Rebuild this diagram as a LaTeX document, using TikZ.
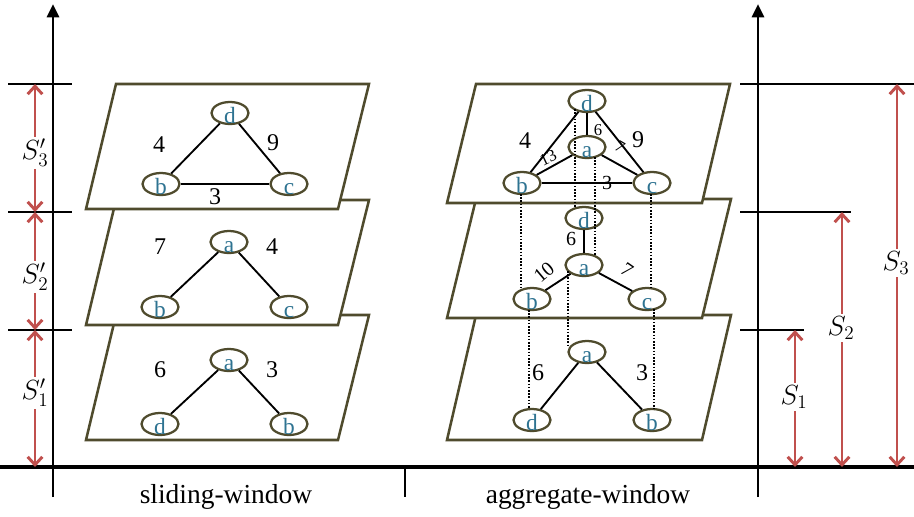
\documentclass[tikz,border=0pt]{standalone}
\usepackage{fontspec}
\setmainfont{Liberation Serif}
\usetikzlibrary{arrows.meta,calc,shapes.geometric}
\definecolor{plc}{HTML}{4F4B2D}
\definecolor{tealtxt}{HTML}{2E7391}
\definecolor{redarr}{HTML}{C0504D}
\newcommand{\nl}[1]{\raisebox{-8pt}[0pt][0pt]{#1}}
\tikzset{
  gnode/.style={ellipse, draw=plc, line width=1.7pt, fill=white, minimum width=27.75pt,
    minimum height=16.5pt, inner sep=0pt, text=tealtxt, font=\fontsize{17.5}{17.5}\selectfont},
  plane/.style={draw=plc, line width=1.9pt, fill=white, line join=miter},
  edgeln/.style={line width=1.4pt, black},
  dotln/.style={line width=1.2pt, black, dash pattern=on 1.2pt off 1.2pt},
  wbig/.style={inner sep=0pt, font=\fontsize{18}{18}\selectfont},
  wmed/.style={inner sep=0pt, font=\fontsize{15}{15}\selectfont},
  wsmall/.style={inner sep=0pt, font=\fontsize{12.5}{13}\selectfont},
  axisln/.style={line width=2.2pt, black},
  tickln/.style={line width=2.2pt, black},
  axarrow/.style={line width=2.2pt, black, -{Triangle[length=10pt,width=9pt]}},
  redln/.style={line width=2.2pt, redarr, {Straight Barb[length=6pt,width=11pt]}-{Straight Barb[length=6pt,width=11pt]}},
  slab/.style={fill=white, inner sep=2pt, font=\huge},
  caption/.style={inner sep=0pt, font=\fontsize{20.6}{21}\selectfont}
}
\begin{document}
\begin{tikzpicture}[x=0.75pt,y=-0.75pt]
\useasboundingbox (0,0) rectangle (914,517);

% ---------- axes ----------
\coordinate (laxb) at (53,497);
\coordinate (laxt) at (53,4);
\coordinate (raxb) at (758,497);
\coordinate (raxt) at (758,4);
\coordinate (bl) at (0,467);
\coordinate (br) at (914,467);
\coordinate (mtk0) at (405,467);
\coordinate (mtk1) at (405,497);
\draw[axarrow] (laxb) -- (laxt);
\draw[axarrow] (raxb) -- (raxt);
\draw[axisln, line width=3pt] (bl) -- (br);
\draw[tickln] (mtk0) -- (mtk1);

% left ticks
\coordinate (lt3a) at (8,84);   \coordinate (lt3b) at (72,84);
\coordinate (lt2a) at (8,212);  \coordinate (lt2b) at (72,212);
\coordinate (lt1a) at (8,330);  \coordinate (lt1b) at (72,330);
\draw[tickln] (lt3a) -- (lt3b);
\draw[tickln] (lt2a) -- (lt2b);
\draw[tickln] (lt1a) -- (lt1b);
% right ticks
\coordinate (rt3a) at (740,84);   \coordinate (rt3b) at (914,84);
\coordinate (rt2a) at (740,212);  \coordinate (rt2b) at (851,212);
\coordinate (rt1a) at (740,330);  \coordinate (rt1b) at (804,330);
\draw[tickln] (rt3a) -- (rt3b);
\draw[tickln] (rt2a) -- (rt2b);
\draw[tickln] (rt1a) -- (rt1b);

% red arrows left
\coordinate (ra3) at (35,84);
\coordinate (ra2) at (35,212);
\coordinate (ra1) at (35,330);
\coordinate (ra0) at (35,467);
\draw[redln] (ra3) -- (ra2);
\draw[redln] (ra2) -- (ra1);
\draw[redln] (ra1) -- (ra0);
\node[slab] (sp3) at (35,153) {$S'_3$};
\node[slab] (sp2) at (35,277) {$S'_2$};
\node[slab] (sp1) at (35,393) {$S'_1$};
% red arrows right
\coordinate (s1t) at (795,330); \coordinate (s1b) at (795,467);
\coordinate (s2t) at (842,212); \coordinate (s2b) at (842,467);
\coordinate (s3t) at (897,84);  \coordinate (s3b) at (897,467);
\draw[redln] (s1t) -- (s1b);
\draw[redln] (s2t) -- (s2b);
\draw[redln] (s3t) -- (s3b);
\node[slab] (s1) at (794,397) {$S_1$};
\node[slab] (s2) at (841,328) {$S_2$};
\node[slab] (s3) at (896,263) {$S_3$};

% ---------- left planes ----------
\draw[plane] (116,315) -- (369,315) -- (338,440) -- (86,440) -- cycle;
\draw[plane] (116,200) -- (369,200) -- (338,325) -- (86,325) -- cycle;
\draw[plane] (116,84) -- (369,84) -- (338,209) -- (86,209) -- cycle;

% ---------- right planes ----------
\draw[plane] (476,315) -- (731,315) -- (702,440) -- (447,440) -- cycle;
\draw[plane] (476,199) -- (731,199) -- (702,318) -- (447,318) -- cycle;
\draw[plane] (476,84) -- (730,84) -- (702,203) -- (447,203) -- cycle;

% ---------- left graphs ----------
\node[gnode] (L3d) at (230,113) {\nl{d}};
\node[gnode] (L3b) at (161,184) {\nl{b}};
\node[gnode] (L3c) at (289,184) {\nl{c}};
\draw[edgeln] (L3d) -- (L3b);
\draw[edgeln] (L3d) -- (L3c);
\draw[edgeln] (L3b) -- (L3c);
\node[wbig] (w3a) at (159,145) {4};
\node[wbig] (w3b) at (273,143) {9};
\node[wbig] (w3c) at (215,197) {3};

\node[gnode] (L2a) at (229,242) {\nl{a}};
\node[gnode] (L2b) at (160,307) {\nl{b}};
\node[gnode] (L2c) at (289,307) {\nl{c}};
\draw[edgeln] (L2a) -- (L2b);
\draw[edgeln] (L2a) -- (L2c);
\node[wbig] (w2a) at (160,247) {7};
\node[wbig] (w2b) at (272,247) {4};

\node[gnode] (L1a) at (229,360) {\nl{a}};
\node[gnode] (L1d) at (160,424) {\nl{d}};
\node[gnode] (L1b) at (289,424) {\nl{b}};
\draw[edgeln] (L1a) -- (L1d);
\draw[edgeln] (L1a) -- (L1b);
\node[wbig] (w1a) at (160,370) {6};
\node[wbig] (w1b) at (272,370) {3};

% ---------- right graphs ----------
\node[gnode] (R3d) at (587,101) {\nl{d}};
\node[gnode] (R3a) at (587,147) {\nl{a}};
\node[gnode] (R3b) at (522,183) {\nl{b}};
\node[gnode] (R3c) at (652,183) {\nl{c}};
\draw[edgeln] (R3d) -- (R3b);
\draw[edgeln] (R3d) -- (R3c);
\draw[edgeln] (R3d) -- (R3a);
\draw[edgeln] (R3a) -- (R3b);
\draw[edgeln] (R3a) -- (R3c);
\draw[edgeln] (R3b) -- (R3c);
\node[wbig] (x3a) at (525,141) {4};
\node[wsmall, rotate=25] (x3b) at (548,158) {13};
\node[wsmall] (x3c) at (598,130) {6};
\node[wsmall, rotate=-30] (x3d) at (620,147) {7};
\node[wbig] (x3e) at (638,140) {9};
\node[wmed] (x3f) at (607,183) {3};

\node[gnode] (R2d) at (584,218) {\nl{d}};
\node[gnode] (R2a) at (584,265) {\nl{a}};
\node[gnode] (R2b) at (532,299) {\nl{b}};
\node[gnode] (R2c) at (647,299) {\nl{c}};
\draw[edgeln] (R2d) -- (R2a);
\draw[edgeln] (R2a) -- (R2b);
\draw[edgeln] (R2a) -- (R2c);
\node[wmed] (x2a) at (571,239) {6};
\node[wmed, rotate=40] (x2b) at (544,272) {10};
\node[wmed, rotate=-35] (x2c) at (627,270) {7};

\node[gnode] (R1a) at (587,352) {\nl{a}};
\node[gnode] (R1d) at (532,420) {\nl{d}};
\node[gnode] (R1b) at (652,420) {\nl{b}};
\draw[edgeln] (R1a) -- (R1d);
\draw[edgeln] (R1a) -- (R1b);
\node[wbig] (x1a) at (538,373) {6};
\node[wbig] (x1b) at (642,373) {3};

% ---------- dotted links ----------
\draw[dotln] ($(R3b.center)+(-1,11)$) -- ($(R2b.center)+(-11,-9)$);
\draw[dotln] ($(R3d.center)+(-12,8)$) -- ($(R2d.center)+(-9,-10)$);
\draw[dotln] ($(R3a.center)+(8,10)$) -- ($(R2a.center)+(11,-9)$);
\draw[dotln] ($(R3c.center)+(-1,11)$) -- ($(R2c.center)+(4,-11)$);
\draw[dotln] ($(R2b.center)+(-3,11)$) -- ($(R1d.center)+(-3,-11)$);
\draw[dotln] ($(R2a.center)+(-16,6)$) -- ($(R1a.center)+(-19,-5)$);
\draw[dotln] ($(R2c.center)+(7,10)$) -- ($(R1b.center)+(2,-11)$);

% ---------- captions ----------
\node[caption] (cap1) at (226,497) {sliding-window};
\node[caption] (cap2) at (588,497) {aggregate-window};
\end{tikzpicture}
\end{document}
